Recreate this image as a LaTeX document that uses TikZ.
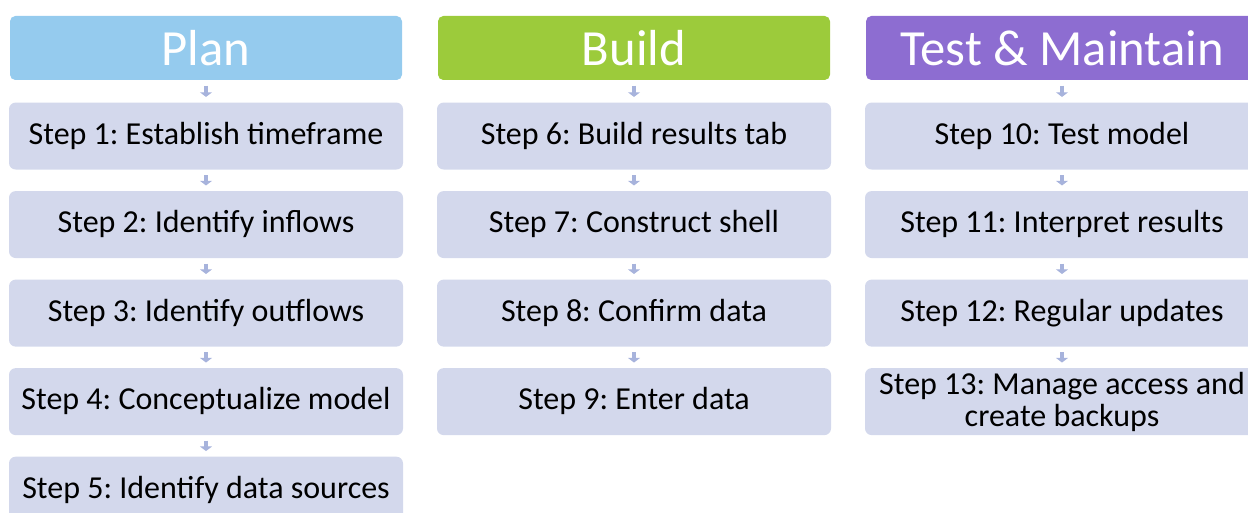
\documentclass[tikz,border=0pt]{standalone}
\usepackage{fontspec}
\setmainfont{Carlito}
\usetikzlibrary{positioning,arrows.meta}
\frenchspacing

\definecolor{planblue}{RGB}{149,203,238}
\definecolor{buildgreen}{RGB}{156,203,59}
\definecolor{testpurple}{RGB}{141,109,209}
\definecolor{stepfill}{RGB}{211,216,236}
\definecolor{arrowfill}{RGB}{167,179,220}

\tikzset{
	phase/.style={rounded corners=4pt, minimum width=294pt, minimum height=48pt, inner sep=0pt,
		text=white, font=\fontsize{38}{40}\selectfont},
	stepbox/.style={fill=stepfill, rounded corners=5pt, minimum width=295.5pt, minimum height=50.25pt,
		inner sep=0pt, align=center, text height=17pt, text depth=5pt, font=\fontsize{24}{24}\selectfont},
	flow/.style={draw=arrowfill, line width=3.5pt, -{Triangle[width=9pt,length=3.5pt]},
		shorten <=4pt, shorten >=4pt}
}

\begin{document}
\begin{tikzpicture}[node distance=15.75pt]
	\useasboundingbox (0,0) rectangle (936pt,-384.75pt);

	%phase headers
	\node[phase, fill=planblue] (plan) at (154.5pt,-36pt) {Plan};
	\node[phase, fill=buildgreen] (build) at (475.5pt,-36pt) {Build};
	\node[phase, fill=testpurple] (test) at (796.5pt,-36pt) {Test \& Maintain};

	%plan steps
	\node[stepbox, below=16.5pt of plan] (s1) {Step 1: Establish timeframe};
	\node[stepbox, below=of s1] (s2) {Step 2: Identify inflows};
	\node[stepbox, below=of s2] (s3) {Step 3: Identify outflows};
	\node[stepbox, below=of s3] (s4) {Step 4: Conceptualize model};
	\node[stepbox, below=of s4] (s5) {Step 5: Identify data sources};

	%build steps
	\node[stepbox, below=16.5pt of build] (s6) {Step 6: Build results tab};
	\node[stepbox, below=of s6] (s7) {Step 7: Construct shell};
	\node[stepbox, below=of s7] (s8) {Step 8: Confirm data};
	\node[stepbox, below=of s8] (s9) {Step 9: Enter data};

	%test and maintain steps
	\node[stepbox, below=16.5pt of test] (s10) {Step 10: Test model};
	\node[stepbox, below=of s10] (s11) {Step 11: Interpret results};
	\node[stepbox, below=of s11] (s12) {Step 12: Regular updates};
	\node[stepbox, below=of s12, text height=, text depth=] (s13) {Step 13: Manage access and\\ create backups};

	%small arrows
	\draw[flow] (plan) -- (s1);
	\draw[flow] (s1) -- (s2);
	\draw[flow] (s2) -- (s3);
	\draw[flow] (s3) -- (s4);
	\draw[flow] (s4) -- (s5);
	\draw[flow] (build) -- (s6);
	\draw[flow] (s6) -- (s7);
	\draw[flow] (s7) -- (s8);
	\draw[flow] (s8) -- (s9);
	\draw[flow] (test) -- (s10);
	\draw[flow] (s10) -- (s11);
	\draw[flow] (s11) -- (s12);
	\draw[flow] (s12) -- (s13);
\end{tikzpicture}
\end{document}
